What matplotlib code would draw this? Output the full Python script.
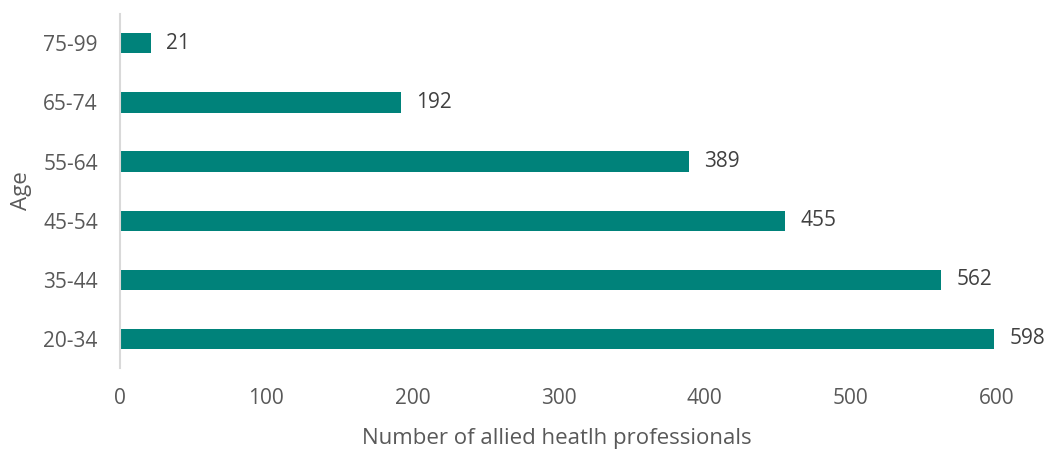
import matplotlib
matplotlib.use("Agg")
import matplotlib.pyplot as plt

# age groups and headcounts, bottom to top
ages = ["20-34", "35-44", "45-54", "55-64", "65-74", "75-99"]
counts = [598, 562, 455, 389, 192, 21]
xticks = [0, 100, 200, 300, 400, 500, 600]

plt.rcParams['font.family'] = ['Open Sans', 'DejaVu Sans']

fig = plt.figure(figsize=(10.58, 4.5), dpi=100)
ax = fig.add_axes([0.1134, 0.182, 0.8566, 0.787])

ypos = range(len(ages))
ax.barh(ypos, counts, height=0.34, color="#00827A")

for y, v in zip(ypos, counts):
    ax.annotate(str(v), (v, y), xytext=(11, 0), textcoords="offset points",
                va="center", ha="left", fontsize=15, color="#404040")

ax.set_xlim(0, 620)
ax.set_ylim(-0.5, len(ages) - 0.5)
ax.set_yticks(list(ypos))
ax.set_yticklabels(ages)
ax.set_xticks(xticks)

for s in ["top", "right", "bottom"]:
    ax.spines[s].set_visible(False)
ax.spines["left"].set_color("#D9D9D9")
ax.spines["left"].set_linewidth(1.5)

ax.tick_params(axis="both", length=0, labelsize=15, labelcolor="#595959")
ax.tick_params(axis="x", pad=14)
ax.tick_params(axis="y", pad=16)

ax.set_xlabel("Number of allied heatlh professionals", fontsize=16, color="#595959", labelpad=14)
ax.xaxis.label.set_x(0.482)
ax.set_ylabel("Age", fontsize=16, color="#595959", labelpad=8)

fig.savefig("out.png", dpi=100)
